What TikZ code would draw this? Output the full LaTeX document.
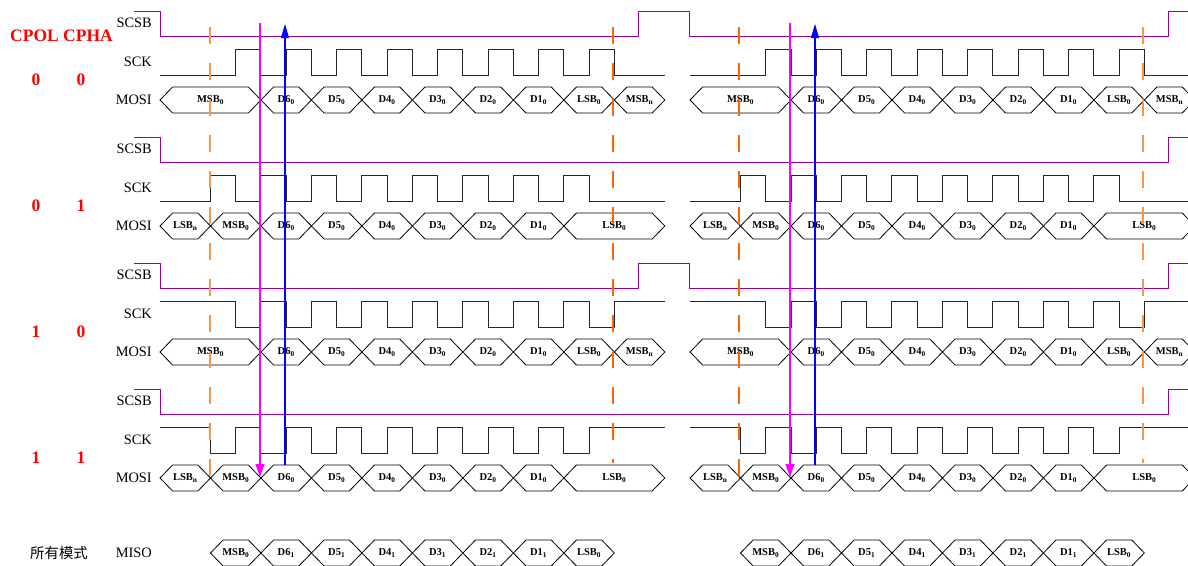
\documentclass[tikz,border=0pt]{standalone}
\usepackage{fontspec}
\setmainfont{Liberation Serif}
\newfontfamily\cjk{Noto Sans CJK SC}
\usetikzlibrary{arrows.meta}

\definecolor{csbpurple}{RGB}{153,0,153}
\definecolor{lightorange}{RGB}{247,150,70}
\definecolor{darkorange}{RGB}{255,102,0}
\definecolor{pickpink}{RGB}{255,0,255}
\definecolor{driveblue}{RGB}{0,0,255}

\begin{document}
\begin{tikzpicture}[
    x=1pt, y=-1pt,
    >=Stealth,
    sig/.style={font=\fontsize{14.4}{14.4}\selectfont, anchor=east, inner sep=0pt},
    mode/.style={font=\fontsize{17.5}{17.5}\selectfont\bfseries, text=red, inner sep=0pt},
    bit/.style={font=\fontsize{10.5}{10.5}\selectfont\bfseries, inner sep=0pt},
    csb/.style={draw=csbpurple, line width=1pt},
    clk/.style={draw=black!85, line width=1pt},
    bus/.style={draw=black, line width=0.8pt},
    samplight/.style={draw=lightorange, line width=1.8pt, dash pattern=on 17pt off 19pt},
    sampdark/.style={draw=darkorange, line width=1.1pt, dash pattern=on 17pt off 19pt},
    pick/.style={draw=pickpink, line width=1.1pt, -{Triangle[length=13pt, width=9pt]}},
    drive/.style={draw=driveblue, line width=1.15pt, -{Triangle[length=14pt, width=8pt]}},
]

\useasboundingbox (0,0) rectangle (1188,565);
\clip (0,0) rectangle (1188,565);

% MOSI cells: start/end (half periods)/label
\def\cellsA{0/4/MSB\textsubscript{0}, 4/6/D6\textsubscript{0}, 6/8/D5\textsubscript{0},
    8/10/D4\textsubscript{0}, 10/12/D3\textsubscript{0}, 12/14/D2\textsubscript{0},
    14/16/D1\textsubscript{0}, 16/18/LSB\textsubscript{0}, 18/20/MSB\textsubscript{n}}
\def\cellsB{0/2/LSB\textsubscript{n}, 2/4/MSB\textsubscript{0}, 4/6/D6\textsubscript{0},
    6/8/D5\textsubscript{0}, 8/10/D4\textsubscript{0}, 10/12/D3\textsubscript{0},
    12/14/D2\textsubscript{0}, 14/16/D1\textsubscript{0}, 16/20/LSB\textsubscript{0}}
\def\cellsMiso{2/4/MSB\textsubscript{0}, 4/6/D6\textsubscript{1}, 6/8/D5\textsubscript{1},
    8/10/D4\textsubscript{1}, 10/12/D3\textsubscript{1}, 12/14/D2\textsubscript{1},
    14/16/D1\textsubscript{1}, 16/18/LSB\textsubscript{0}}

% 标题
\node[mode] (cpolcpha) at (61.5,36) {CPOL CPHA};

% 四种模式
\foreach \row/\pol/\pha in {0/0/0, 1/0/1, 2/1/0, 3/1/1} {
    \pgfmathsetmacro{\ya}{11+126*\row}
    \pgfmathsetmacro{\yb}{\ya+25}
    \pgfmathsetmacro{\yidle}{\ya+64-26*\pol}
    \pgfmathsetmacro{\yact}{\ya+38+26*\pol}
    \pgfmathsetmacro{\yc}{\ya+89}
    \pgfmathtruncatemacro{\e}{3-\pha}

    \node[mode] (pol\row) at (36,\ya+69) {\pol};
    \node[mode] (pha\row) at (81,\ya+69) {\pha};
    \node[sig] (scsb\row) at (152,\ya+12) {SCSB};
    \node[sig] (sck\row) at (152,\ya+51) {SCK};
    \node[sig] (mosi\row) at (152,\yc) {MOSI};

    % SCSB
    \ifnum\pha=0
        \draw[csb] (134,\ya) -- (160,\ya) -- (160,\yb) -- (638.8,\yb) -- (638.8,\ya)
            -- (689.2,\ya) -- (689.2,\yb) -- (1168.8,\yb) -- (1168.8,\ya) -- (1188,\ya);
        \let\cells\cellsA
    \else
        \draw[csb] (134,\ya) -- (160,\ya) -- (160,\yb) -- (1168.8,\yb) -- (1168.8,\ya) -- (1188,\ya);
        \let\cells\cellsB
    \fi

    \foreach \b in {0,21} {
        % SCK
        \draw[clk] ({160+25.24*\b},\yidle)
            \foreach \k in {0,...,7} {
                -- ({160+25.24*(\b+\e+2*\k)},\yidle) -- ({160+25.24*(\b+\e+2*\k)},\yact)
                -- ({160+25.24*(\b+\e+1+2*\k)},\yact) -- ({160+25.24*(\b+\e+1+2*\k)},\yidle)
            } -- ({160+25.24*(\b+20)},\yidle);
        % MOSI
        \foreach \a/\z/\txt in \cells {
            \draw[bus] ({160+25.24*(\b+\a)},\yc) -- ++(12.6,-13)
                -- ({160+25.24*(\b+\z)-12.6},\yc-13) -- ({160+25.24*(\b+\z)},\yc)
                -- ({160+25.24*(\b+\z)-12.6},\yc+13) -- ({160+25.24*(\b+\a)+12.6},\yc+13) -- cycle;
            \node[bit] (mosi\row-\b-\a) at ({160+25.24*(\b+(\a+\z)/2)},\yc) {\txt};
        }
    }
}

% MISO
\node[font=\cjk\fontsize{14.4}{14.4}\selectfont, inner sep=0pt] (allmodes) at (59,553) {所有模式};
\node[sig] (miso) at (152,553) {MISO};
\foreach \b in {0,21} {
    \foreach \a/\z/\txt in \cellsMiso {
        \draw[bus] ({160+25.24*(\b+\a)},553) -- ++(12.6,-13)
            -- ({160+25.24*(\b+\z)-12.6},540) -- ({160+25.24*(\b+\z)},553)
            -- ({160+25.24*(\b+\z)-12.6},566) -- ({160+25.24*(\b+\a)+12.6},566) -- cycle;
        \node[bit] (miso-\b-\a) at ({160+25.24*(\b+(\a+\z)/2)},553) {\txt};
    }
}

% 采样沿
\coordinate (sampA) at (210,27);   \coordinate (sampAend) at (210,477);
\coordinate (sampB) at (613,27);   \coordinate (sampBend) at (613,463);
\coordinate (sampC) at (739,27);   \coordinate (sampCend) at (739,477);
\coordinate (sampD) at (1143,27);  \coordinate (sampDend) at (1143,463);
\draw[samplight] (sampA) -- (sampAend);
\draw[sampdark] (sampB) -- (sampBend);
\draw[sampdark] (sampC) -- (sampCend);
\draw[samplight] (sampD) -- (sampDend);

% 箭头
\coordinate (pickL) at (260,23);   \coordinate (pickLend) at (260,477);
\coordinate (pickR) at (790,23);   \coordinate (pickRend) at (790,477);
\coordinate (driveL) at (285,465); \coordinate (driveLend) at (285,24);
\coordinate (driveR) at (815,465); \coordinate (driveRend) at (815,24);
\draw[pick] (pickL) -- (pickLend);
\draw[pick] (pickR) -- (pickRend);
\draw[drive] (driveL) -- (driveLend);
\draw[drive] (driveR) -- (driveRend);

\end{tikzpicture}
\end{document}
